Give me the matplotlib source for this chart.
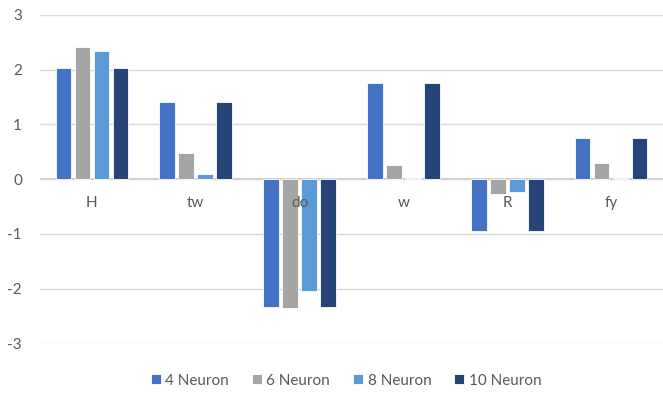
import matplotlib.pyplot as plt
import numpy as np

plt.rcParams['font.family'] = ['Lato', 'DejaVu Sans']
plt.rcParams['axes.unicode_minus'] = False

# sensitivity values per input parameter, one list per network size
params = ['H', 'tw', 'do', 'w', 'R', 'fy']
series = ['4 Neuron', '6 Neuron', '8 Neuron', '10 Neuron']
n4 = [2.03, 1.41, -2.34, 1.75, -0.95, 0.76]
n6 = [2.42, 0.47, -2.36, 0.26, -0.27, 0.29]
n8 = [2.34, 0.086, -2.04, 0.03, -0.24, 0.02]
n10 = [2.03, 1.41, -2.34, 1.75, -0.95, 0.76]
colors = ['#4472C4', '#A5A5A5', '#5B9BD5', '#264478']

fig = plt.figure(figsize=(6.63, 3.93), dpi=100)
ax = fig.add_axes([40/663, 1 - 343.3/393, 1 - 40/663, (343.3 - 15)/393])

x = np.arange(len(params))
step = 0.183
width = 0.15
for k, (vals, name) in enumerate(zip([n4, n6, n8, n10], series)):
    ax.bar(x + (k - 1.5) * step, vals, width, color=colors[k], label=name,
           edgecolor='white', linewidth=0.6, zorder=3)

ax.set_xlim(-0.5, len(params) - 0.5)
ax.set_ylim(-3, 3)
ax.set_yticks(range(-3, 4))
ax.set_xticks([])
ax.grid(axis='y', color='#d9d9d9', linewidth=1.0, zorder=0)
ax.axhline(0, color='#d0d0d0', linewidth=1.4, zorder=2)
for s in ax.spines.values():
    s.set_visible(False)
ax.tick_params(axis='y', length=0, pad=13, labelsize=11, labelcolor='#595959')

# category labels sit just under the zero line, drawn over the bars
for xi, p in zip(x, params):
    ax.annotate(p, (xi, 0), xytext=(0, -17), textcoords='offset points',
                ha='center', va='center', fontsize=11, color='#595959', zorder=5)

fig.legend(loc='center', bbox_to_anchor=(346/663, 1 - 380.7/393), ncol=4,
           frameon=False, fontsize=11, handlelength=0.65, handleheight=0.65,
           handletextpad=0.3, columnspacing=1.5, labelcolor='#595959')

fig.savefig('out.png', dpi=100)
